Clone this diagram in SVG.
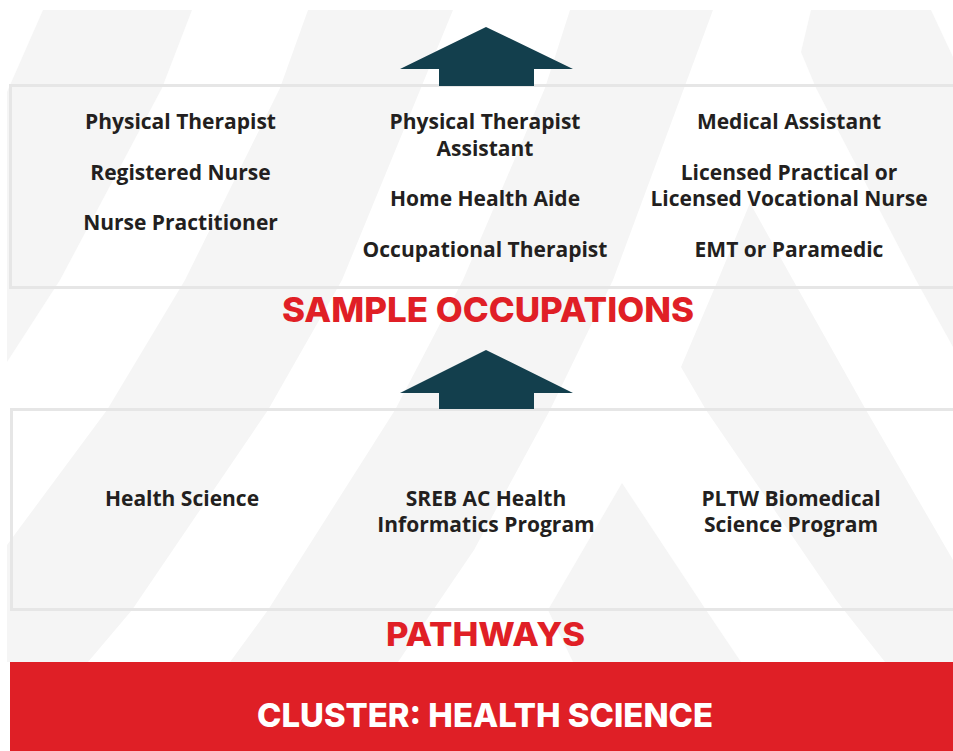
<svg xmlns="http://www.w3.org/2000/svg" width="953" height="751" viewBox="0 0 953 751">
<style>
.bg{fill:#f5f5f5}
.box{fill:none;stroke:#e6e6e6;stroke-width:3}
.t{font-family:"Open Sans","Liberation Sans",sans-serif;font-weight:700;font-size:21px;fill:#231f20;text-anchor:middle}
.h{font-family:Inter,"Open Sans","Liberation Sans",sans-serif;font-weight:800;fill:#e01f26;text-anchor:middle}
.arrow{fill:#133f4d}
</style>
<rect width="953" height="751" fill="#ffffff"/>
<g id="background">
<polygon class="bg" points="43,10 192,10 162,88 60,280 7,362 7,92"/>
<polygon class="bg" points="308,10 453,10 342,280 268,410 132,610 88,662 7,662 7,545 107,410 185,280 280,88"/>
<polygon class="bg" points="570,10 713,10 613,280 550,410 474,550 440,600 398,662 230,662 268,610 395,410 463,280 545,88"/>
<polygon class="bg" points="811,10 931,10 953,57 953,347 916,280 816,88 801,52"/>
<polygon class="bg" points="750,203 793,280 866,410 953,560 953,662 885,662 836,600 706,410 681,367 718,280"/>
<polygon class="bg" points="622,483 706,610 741,662 573,662 548,610"/>
</g>
<g id="occupations">
<rect class="box" x="10.5" y="85.5" width="960" height="202"/>
<text class="t" x="180.5" y="129">Physical Therapist</text>
<text class="t" x="180.5" y="180">Registered Nurse</text>
<text class="t" x="180.5" y="230">Nurse Practitioner</text>
<text class="t" x="485" y="129">Physical Therapist</text>
<text class="t" x="485" y="156">Assistant</text>
<text class="t" x="485" y="206">Home Health Aide</text>
<text class="t" x="485" y="257">Occupational Therapist</text>
<text class="t" x="789" y="129">Medical Assistant</text>
<text class="t" x="789" y="180">Licensed Practical or</text>
<text class="t" x="789" y="206">Licensed Vocational Nurse</text>
<text class="t" x="789" y="257">EMT or Paramedic</text>
<text class="h" x="488" y="322" font-size="34" textLength="412" lengthAdjust="spacingAndGlyphs">SAMPLE OCCUPATIONS</text>
</g>
<g id="pathways">
<rect class="box" x="11.5" y="409.5" width="960" height="200"/>
<text class="t" x="182" y="506">Health Science</text>
<text class="t" x="486" y="506">SREB AC Health</text>
<text class="t" x="486" y="532">Informatics Program</text>
<text class="t" x="791" y="506">PLTW Biomedical</text>
<text class="t" x="791" y="532">Science Program</text>
<text class="h" x="485.5" y="646" font-size="32" textLength="199" lengthAdjust="spacingAndGlyphs">PATHWAYS</text>
</g>
<g id="cluster">
<rect x="10" y="662" width="943" height="89" fill="#df1f26"/>
<text class="h" x="485" y="727" font-size="33" style="fill:#ffffff" textLength="456" lengthAdjust="spacingAndGlyphs">CLUSTER: HEALTH SCIENCE</text>
</g>
<g id="connectors">
<polygon class="arrow" points="486,27 573,69 534,69 534,86 439,86 439,69 400,69"/>
<polygon class="arrow" points="486,350 573,393 534,393 534,409 439,409 439,393 400,393"/>
</g>
</svg>
